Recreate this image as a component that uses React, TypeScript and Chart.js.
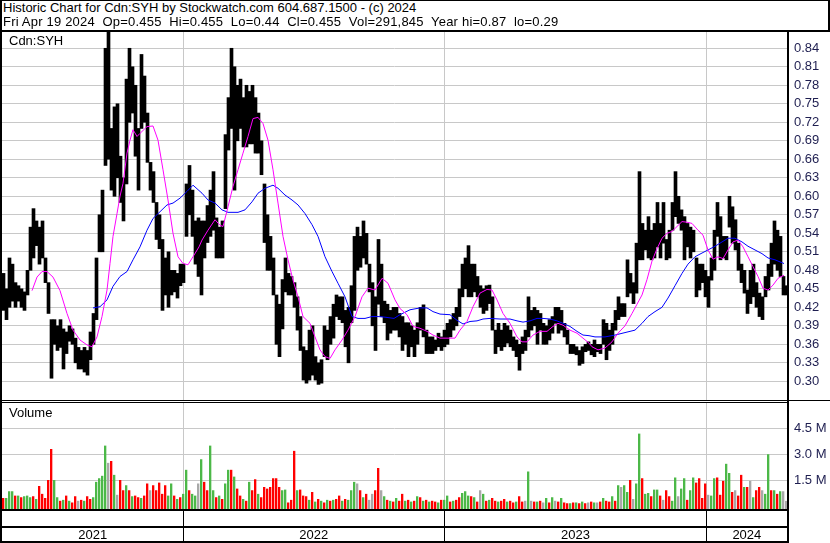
import React, { useEffect, useRef } from 'react';
import { Chart, registerables } from 'chart.js';

Chart.register(...registerables);

const FONT = '"Liberation Sans", Arial, Helvetica, sans-serif';
Chart.defaults.font.family = FONT;

// ---------- text ----------
const TITLE = 'Historic Chart for Cdn:SYH by Stockwatch.com 604.687.1500 - (c) 2024';
const SUBTITLE = 'Fri Apr 19 2024  Op=0.455  Hi=0.455  Lo=0.44  Cl=0.455  Vol=291,845  Year hi=0.87  lo=0.29';
const SYMBOL = 'Cdn:SYH';
const VOLUME_TITLE = 'Volume';
const YEARS = ['2021', '2022', '2023', '2024'];

// ---------- time axis (weekday index from late Apr 2021 to Apr 19 2024) ----------
const DAY_COUNT = 785;
const DAYS_PER_BAR = 3;
const YEAR_START_DAYS = [181.3, 442.3, 704.7]; // Jan 2022, Jan 2023, Jan 2024

// ---------- value axes ----------
const PRICE_TICKS = [0.30, 0.33, 0.36, 0.39, 0.42, 0.45, 0.48, 0.51, 0.54, 0.57, 0.60, 0.63, 0.66, 0.69, 0.72, 0.75, 0.78, 0.81, 0.84];
const PRICE_MIN = 0.2697;
const PRICE_MAX = 0.8664;
const VOLUME_TICKS = [1.5, 3.0, 4.5];
const VOLUME_MIN = -0.183;
const VOLUME_MAX = 5.969;

// ---------- price bars (each bar = 3 trading days) ----------
const barHigh = [
  0.475, 0.45, 0.50, 0.49, 0.46, 0.455, 0.45, 0.445, 0.48, 0.55,
  0.58, 0.56, 0.55, 0.56, 0.50, 0.46, 0.40, 0.40, 0.39, 0.40,
  0.385, 0.38, 0.39, 0.385, 0.37, 0.355, 0.35, 0.355, 0.35, 0.38,
  0.41, 0.50, 0.57, 0.61, 0.84, 0.867, 0.71, 0.745, 0.75, 0.665,
  0.63, 0.79, 0.84, 0.81, 0.78, 0.71, 0.83, 0.795, 0.735, 0.655,
  0.64, 0.59, 0.57, 0.53, 0.50, 0.51, 0.48, 0.48, 0.475, 0.49,
  0.49, 0.62, 0.65, 0.61, 0.56, 0.565, 0.56, 0.56, 0.585, 0.61,
  0.64, 0.565, 0.55, 0.56, 0.70, 0.76, 0.84, 0.81, 0.78, 0.79,
  0.76, 0.78, 0.77, 0.78, 0.76, 0.735, 0.69, 0.62, 0.57, 0.535,
  0.50, 0.44, 0.425, 0.465, 0.50, 0.475, 0.47, 0.46, 0.437, 0.405,
  0.356, 0.35, 0.383, 0.39, 0.34, 0.33, 0.335, 0.39, 0.383, 0.405,
  0.425, 0.44, 0.437, 0.437, 0.415, 0.42, 0.455, 0.535, 0.55, 0.535,
  0.56, 0.54, 0.49, 0.46, 0.437, 0.53, 0.49, 0.43, 0.425, 0.415,
  0.42, 0.42, 0.41, 0.405, 0.395, 0.395, 0.39, 0.383, 0.395, 0.42,
  0.424, 0.383, 0.372, 0.372, 0.367, 0.378, 0.372, 0.383, 0.394, 0.40,
  0.41, 0.42, 0.45, 0.49, 0.50, 0.52, 0.49, 0.49, 0.47, 0.455,
  0.45, 0.455, 0.456, 0.437, 0.383, 0.394, 0.383, 0.394, 0.39, 0.383,
  0.372, 0.367, 0.36, 0.372, 0.383, 0.437, 0.415, 0.42, 0.415, 0.41,
  0.394, 0.39, 0.40, 0.405, 0.42, 0.42, 0.415, 0.394, 0.383, 0.36,
  0.36, 0.356, 0.35, 0.356, 0.36, 0.364, 0.36, 0.367, 0.36, 0.36,
  0.40, 0.394, 0.383, 0.394, 0.415, 0.437, 0.426, 0.426, 0.497, 0.475,
  0.46, 0.524, 0.64, 0.556, 0.545, 0.567, 0.545, 0.556, 0.59, 0.556,
  0.59, 0.53, 0.545, 0.59, 0.64, 0.60, 0.578, 0.567, 0.556, 0.55,
  0.545, 0.50, 0.49, 0.49, 0.48, 0.47, 0.50, 0.545, 0.59, 0.567,
  0.535, 0.535, 0.60, 0.583, 0.562, 0.524, 0.49, 0.48, 0.448, 0.48,
  0.49, 0.46, 0.443, 0.437, 0.47, 0.49, 0.524, 0.56, 0.545, 0.535,
  0.47, 0.455,
];
const barLow = [
  0.415, 0.40, 0.42, 0.43, 0.42, 0.43, 0.42, 0.415, 0.44, 0.48,
  0.50, 0.52, 0.49, 0.50, 0.46, 0.41, 0.305, 0.36, 0.35, 0.355,
  0.32, 0.345, 0.365, 0.36, 0.33, 0.32, 0.32, 0.315, 0.31, 0.335,
  0.36, 0.40, 0.51, 0.51, 0.65, 0.66, 0.61, 0.60, 0.63, 0.59,
  0.56, 0.62, 0.72, 0.735, 0.665, 0.61, 0.71, 0.72, 0.655, 0.61,
  0.59, 0.53, 0.515, 0.415, 0.44, 0.42, 0.44, 0.445, 0.435, 0.455,
  0.46, 0.535, 0.57, 0.535, 0.49, 0.47, 0.44, 0.50, 0.525, 0.535,
  0.545, 0.50, 0.50, 0.50, 0.58, 0.675, 0.71, 0.61, 0.69, 0.71,
  0.68, 0.68, 0.685, 0.685, 0.67, 0.67, 0.635, 0.525, 0.48, 0.48,
  0.44, 0.36, 0.34, 0.385, 0.445, 0.44, 0.44, 0.42, 0.383, 0.35,
  0.302, 0.297, 0.302, 0.31, 0.302, 0.295, 0.297, 0.34, 0.335, 0.36,
  0.37, 0.405, 0.40, 0.395, 0.356, 0.33, 0.395, 0.415, 0.48, 0.485,
  0.50, 0.49, 0.445, 0.39, 0.35, 0.425, 0.405, 0.395, 0.367, 0.378,
  0.383, 0.383, 0.372, 0.35, 0.36, 0.34, 0.356, 0.34, 0.36, 0.383,
  0.372, 0.345, 0.345, 0.345, 0.35, 0.356, 0.35, 0.356, 0.36, 0.372,
  0.383, 0.39, 0.405, 0.437, 0.45, 0.437, 0.437, 0.445, 0.437, 0.42,
  0.41, 0.415, 0.426, 0.383, 0.345, 0.356, 0.35, 0.356, 0.362, 0.356,
  0.35, 0.34, 0.318, 0.345, 0.35, 0.372, 0.383, 0.39, 0.36, 0.383,
  0.36, 0.36, 0.367, 0.378, 0.394, 0.378, 0.383, 0.372, 0.36, 0.345,
  0.345, 0.343, 0.326, 0.329, 0.348, 0.35, 0.343, 0.34, 0.348, 0.345,
  0.36, 0.335, 0.35, 0.36, 0.383, 0.40, 0.405, 0.405, 0.437, 0.443,
  0.426, 0.443, 0.497, 0.497, 0.513, 0.50, 0.497, 0.50, 0.518, 0.50,
  0.524, 0.497, 0.50, 0.545, 0.567, 0.556, 0.545, 0.497, 0.518, 0.50,
  0.51, 0.437, 0.448, 0.46, 0.437, 0.42, 0.464, 0.48, 0.535, 0.497,
  0.50, 0.497, 0.55, 0.524, 0.513, 0.48, 0.46, 0.443, 0.41, 0.426,
  0.437, 0.42, 0.405, 0.40, 0.437, 0.448, 0.47, 0.49, 0.48, 0.47,
  0.44, 0.44,
];

// ---------- volume (millions of shares) and direction (1 up, -1 down, 0 unchanged) ----------
const volumeM = [
  0.45, 0.45, 0.85, 0.85, 0.6, 0.6, 0.5, 0.55, 0.6, 0.5,
  0.55, 0.4, 1.15, 0.7, 0.45, 1.5, 3.3, 1.5, 0.5, 0.3,
  0.35, 0.6, 0.3, 0.2, 0.55, 0.3, 0.35, 0.3, 0.55, 0.4,
  0.5, 1.4, 1.6, 1.75, 3.5, 2.5, 2.6, 1.8, 0.65, 1.5,
  0.9, 1.2, 0.9, 0.55, 0.6, 0.5, 0.45, 0.6, 1.3, 0.9,
  1.2, 0.9, 1.35, 0.7, 1.2, 0.6, 1.3, 0.6, 0.4, 0.5,
  0.7, 2.1, 0.9, 0.7, 0.6, 1.3, 2.7, 1.4, 0.9, 3.5,
  0.9, 0.5, 0.6, 0.4, 1.3, 2.1, 2.1, 1.7, 1.0, 0.6,
  0.4, 0.3, 1.4, 0.9, 1.55, 0.7, 0.5, 1.1, 1.0, 1.1,
  1.6, 1.6, 1.1, 0.9, 0.95, 0.2, 0.35, 3.2, 0.9, 0.95,
  0.6, 0.55, 0.35, 0.8, 0.25, 0.4, 0.3, 0.2, 0.35, 0.3,
  0.35, 0.4, 0.6, 0.3, 0.4, 0.35, 0.9, 1.4, 1.3, 0.9,
  0.5, 0.7, 0.35, 0.7, 0.9, 2.2, 0.9, 0.55, 0.35, 0.3,
  0.25, 0.45, 0.3, 0.7, 0.3, 0.35, 0.25, 0.3, 0.55, 0.5,
  0.3, 0.35, 0.25, 0.3, 0.25, 0.2, 0.35, 0.35, 0.6, 0.25,
  0.3, 0.35, 0.5, 0.75, 0.85, 0.6, 0.55, 0.5, 0.25, 0.9,
  0.7, 0.3, 0.35, 0.45, 0.3, 0.25, 0.3, 0.4, 0.25, 0.3,
  0.2, 0.25, 0.55, 0.25, 0.3, 2.0, 0.3, 0.25, 0.25, 0.3,
  0.2, 0.45, 0.2, 0.5, 0.3, 0.25, 0.45, 0.2, 0.15, 0.15,
  0.2, 0.2, 0.15, 0.25, 0.15, 0.2, 0.25, 0.2, 0.2, 0.25,
  0.45, 0.3, 0.25, 0.55, 0.3, 1.2, 1.1, 1.2, 0.8, 1.5,
  0.4, 1.3, 4.2, 1.6, 0.7, 0.75, 0.55, 0.95, 0.95, 0.6,
  0.35, 0.9, 0.55, 0.3, 1.65, 0.55, 1.0, 1.6, 0.35, 0.9,
  1.65, 1.35, 1.6, 0.45, 1.3, 0.65, 0.6, 1.6, 1.65, 0.65,
  1.45, 2.45, 1.9, 0.8, 0.9, 0.6, 1.8, 1.1, 1.1, 1.45,
  0.5, 0.9, 1.1, 0.9, 0.7, 3.0, 0.9, 0.9, 0.7, 0.85,
  0.85, 0.29,
];
const volumeDir = [
  -1, 1, 1, 1, -1, 1, -1, 1, 1, 1,
  -1, 1, -1, -1, -1, -1, -1, 1, 1, -1,
  1, -1, 1, -1, -1, 0, -1, 1, -1, -1,
  1, 1, 1, 1, 1, 0, -1, 1, 0, -1,
  -1, 1, -1, 1, -1, -1, 1, -1, -1, 0,
  -1, -1, -1, -1, -1, 1, 1, -1, 1, -1,
  1, 1, -1, 1, 1, 0, 1, -1, -1, 1,
  1, -1, 1, -1, 1, 1, -1, 1, -1, -1,
  1, -1, 1, -1, -1, 1, -1, -1, -1, -1,
  -1, -1, -1, 1, 1, -1, -1, -1, 1, -1,
  -1, -1, 1, -1, 1, -1, 1, -1, 1, -1,
  1, -1, -1, 1, -1, 1, 1, 1, 0, -1,
  1, -1, 0, 0, -1, -1, 0, 1, -1, 1,
  -1, 1, -1, -1, 1, -1, 1, -1, 1, -1,
  1, -1, 1, -1, -1, 1, -1, 1, 1, -1,
  1, -1, -1, 1, 1, 1, -1, 1, -1, 0,
  1, -1, 1, -1, -1, 1, -1, -1, 1, -1,
  -1, 1, -1, -1, 0, 1, 0, -1, 1, -1,
  0, 1, -1, 1, 0, -1, 1, -1, -1, 1,
  -1, 1, -1, 1, -1, 0, -1, 1, 0, -1,
  1, -1, -1, 1, -1, 1, 0, 1, 1, -1,
  0, 1, 1, -1, 1, 1, -1, 1, 1, -1,
  0, -1, -1, 1, 1, 0, 1, 1, -1, 1,
  1, -1, -1, -1, -1, 0, 1, 1, -1, -1,
  -1, 1, 1, -1, 0, -1, -1, 1, -1, 0,
  1, -1, -1, 0, 1, 1, -1, 1, -1, 1,
  0, 0,
];

// ---------- moving averages ----------
const maFastDay = [
  30, 35, 40, 45, 51, 58, 65, 71, 78, 85,
  90, 95, 100, 105, 108, 111, 115, 118, 121, 125,
  128, 131, 135, 138, 145, 151, 156, 161, 166, 171,
  176, 181, 186, 191, 197, 200, 206, 213, 218, 221,
  226, 231, 236, 241, 246, 251, 256, 261, 266, 271,
  276, 281, 286, 291, 296, 301, 308, 313, 318, 323,
  328, 333, 340, 346, 353, 360, 366, 373, 380, 386,
  393, 398, 405, 411, 418, 425, 431, 438, 445, 453,
  458, 465, 471, 478, 485, 490, 495, 501, 508, 515,
  520, 525, 531, 538, 545, 551, 556, 561, 568, 575,
  581, 587, 590, 596, 603, 610, 616, 623, 630, 635,
  640, 645, 650, 655, 660, 665, 670, 675, 680, 685,
  690, 696, 701, 706, 711, 716, 721, 726, 731, 736,
  741, 746, 751, 756, 761, 766, 771, 776, 782,
];
const maFastVal = [
  0.447, 0.469, 0.478, 0.478, 0.469, 0.447, 0.41, 0.383, 0.367, 0.359,
  0.356, 0.372, 0.405, 0.448, 0.491, 0.535, 0.572, 0.60, 0.621, 0.67,
  0.691, 0.708, 0.697, 0.702, 0.713, 0.714, 0.691, 0.643, 0.594, 0.54,
  0.502, 0.491, 0.489, 0.502, 0.518, 0.529, 0.545, 0.562, 0.553, 0.551,
  0.583, 0.616, 0.643, 0.67, 0.697, 0.726, 0.728, 0.718, 0.691, 0.643,
  0.589, 0.535, 0.497, 0.464, 0.437, 0.405, 0.394, 0.372, 0.351, 0.34,
  0.337, 0.351, 0.367, 0.383, 0.405, 0.437, 0.451, 0.448, 0.467, 0.459,
  0.432, 0.418, 0.408, 0.389, 0.386, 0.381, 0.375, 0.37, 0.37, 0.37,
  0.383, 0.397, 0.421, 0.443, 0.449, 0.448, 0.432, 0.41, 0.394, 0.372,
  0.364, 0.364, 0.375, 0.381, 0.381, 0.389, 0.394, 0.391, 0.383, 0.378,
  0.37, 0.362, 0.356, 0.351, 0.354, 0.364, 0.378, 0.39, 0.41, 0.425,
  0.44, 0.465, 0.495, 0.515, 0.532, 0.54, 0.543, 0.551, 0.559, 0.558,
  0.556, 0.545, 0.537, 0.513, 0.498, 0.502, 0.499, 0.513, 0.526, 0.529,
  0.518, 0.502, 0.486, 0.47, 0.451, 0.448, 0.456, 0.467, 0.472,
];
const maSlowDay = [
  91, 98, 105, 111, 118, 125, 131, 138, 145, 151,
  158, 165, 171, 178, 185, 191, 200, 206, 213, 220,
  226, 236, 243, 250, 256, 263, 271, 276, 283, 290,
  296, 303, 310, 316, 323, 330, 336, 343, 350, 356,
  363, 370, 376, 383, 392, 398, 408, 418, 425, 431,
  438, 448, 455, 461, 468, 475, 481, 488, 498, 508,
  515, 521, 528, 535, 541, 548, 555, 561, 568, 575,
  581, 587, 593, 603, 613, 623, 633, 640, 646, 653,
  660, 666, 673, 680, 686, 693, 700, 706, 713, 720,
  726, 733, 740, 746, 753, 760, 766, 773, 782,
];
const maSlowVal = [
  0.419, 0.421, 0.432, 0.454, 0.47, 0.478, 0.497, 0.518, 0.545, 0.564,
  0.575, 0.586, 0.589, 0.597, 0.608, 0.618, 0.605, 0.594, 0.589, 0.578,
  0.574, 0.574, 0.578, 0.591, 0.605, 0.613, 0.618, 0.613, 0.602, 0.594,
  0.586, 0.572, 0.554, 0.535, 0.502, 0.478, 0.459, 0.437, 0.405, 0.402,
  0.402, 0.405, 0.405, 0.404, 0.402, 0.408, 0.416, 0.419, 0.419, 0.413,
  0.409, 0.408, 0.399, 0.393, 0.397, 0.398, 0.401, 0.402, 0.401, 0.401,
  0.398, 0.396, 0.398, 0.402, 0.402, 0.401, 0.398, 0.394, 0.389, 0.381,
  0.375, 0.374, 0.372, 0.372, 0.375, 0.379, 0.383, 0.394, 0.405, 0.413,
  0.42, 0.435, 0.455, 0.475, 0.49, 0.502, 0.508, 0.513, 0.519, 0.526,
  0.532, 0.532, 0.526, 0.519, 0.513, 0.507, 0.50, 0.497, 0.491,
];

// ---------- styling / layout ----------
const W = 830;
const H = 543;
const PLOT_LEFT = 2;
const PLOT_RIGHT = 787;
const PRICE_TOP = 32;
const PRICE_H = 368;
const VOL_TOP = 403;
const VOL_H = 106;
const GRID = '#c8c8c8';
const LABEL = '#1e1e50';
const UP = '#4cb848';
const DOWN = '#ff0000';
const FLAT = '#a8a8a8';
const GAP_BORDER = { left: 0, top: 0, bottom: 0, right: 1 };

const dayToPx = (d: number) => PLOT_LEFT + (d * (PLOT_RIGHT - PLOT_LEFT)) / DAY_COUNT;

function xScale(): any {
  return {
    type: 'linear',
    min: 0,
    max: DAY_COUNT,
    bounds: 'data',
    offset: false,
    grid: { color: GRID, lineWidth: 1, drawTicks: false, offset: false },
    border: { display: false },
    ticks: { display: false },
    afterBuildTicks: (s: any) => {
      s.ticks = YEAR_START_DAYS.map((v) => ({ value: v }));
    },
    afterFit: (s: any) => {
      s.height = 0;
      s.paddingLeft = 0;
      s.paddingRight = 0;
      s.paddingTop = 0;
      s.paddingBottom = 0;
    },
  };
}

function yScale(min: number, max: number, ticks: number[], fmt: (v: number) => string): any {
  return {
    type: 'linear',
    position: 'right',
    min,
    max,
    bounds: 'data',
    grid: { color: GRID, lineWidth: 1, drawTicks: false },
    border: { display: false },
    ticks: {
      color: LABEL,
      font: { family: FONT, size: 13 },
      padding: 7,
      autoSkip: false,
      callback: (v: any) => fmt(Number(v)),
    },
    afterBuildTicks: (s: any) => {
      s.ticks = ticks.map((v) => ({ value: v }));
    },
    afterFit: (s: any) => {
      s.width = W - PLOT_RIGHT;
      s.paddingTop = 0;
      s.paddingBottom = 0;
    },
  };
}

const baseOptions = (scales: any): any => ({
  animation: false,
  responsive: false,
  maintainAspectRatio: false,
  events: [],
  layout: { padding: { left: PLOT_LEFT, right: 0, top: 0, bottom: 0 } },
  plugins: { legend: { display: false }, tooltip: { enabled: false } },
  scales,
});

const barDay = (i: number) => i * DAYS_PER_BAR + DAYS_PER_BAR / 2;

function priceConfig(): any {
  return {
    type: 'bar',
    data: {
      datasets: [
        {
          type: 'line',
          label: 'MA fast',
          data: maFastDay.map((d, i) => ({ x: d, y: maFastVal[i] })),
          borderColor: '#ff00ff',
          borderWidth: 1,
          pointRadius: 0,
          tension: 0,
          order: 0,
        },
        {
          type: 'line',
          label: 'MA slow',
          data: maSlowDay.map((d, i) => ({ x: d, y: maSlowVal[i] })),
          borderColor: '#0000ff',
          borderWidth: 1,
          pointRadius: 0,
          tension: 0,
          order: 1,
        },
        {
          type: 'bar',
          label: SYMBOL,
          data: barHigh.map((h, i) => ({ x: barDay(i), y: [barLow[i], h] })),
          backgroundColor: '#000000',
          borderWidth: 0,
          barThickness: DAYS_PER_BAR,
          minBarLength: 1,
          order: 2,
        },
      ],
    },
    options: baseOptions({
      x: xScale(),
      y: yScale(PRICE_MIN, PRICE_MAX, PRICE_TICKS, (v) => v.toFixed(2)),
    }),
  };
}

function volumeConfig(): any {
  return {
    type: 'bar',
    data: {
      datasets: [
        {
          type: 'bar',
          label: VOLUME_TITLE,
          data: volumeM.map((v, i) => ({ x: barDay(i), y: v })),
          backgroundColor: volumeDir.map((d) => (d > 0 ? UP : d < 0 ? DOWN : FLAT)),
          borderColor: 'rgba(0,0,0,0)',
          borderWidth: GAP_BORDER,
          borderSkipped: false,
          base: VOLUME_MIN,
          barThickness: DAYS_PER_BAR,
        },
      ],
    },
    options: baseOptions({
      x: xScale(),
      y: yScale(VOLUME_MIN, VOLUME_MAX, VOLUME_TICKS, (v) => `${v.toFixed(1)} M`),
    }),
  };
}

const Rule = ({ l, t, w, h }: { l: number; t: number; w: number; h: number }) => (
  <div style={{ position: 'absolute', left: l, top: t, width: w, height: h, background: '#000' }} />
);

const textStyle = (left: number, top: number): React.CSSProperties => ({
  position: 'absolute',
  left,
  top,
  fontSize: 13,
  lineHeight: '14px',
  whiteSpace: 'pre',
  color: '#000',
  fontFamily: FONT,
});

export default function App() {
  const priceRef = useRef<HTMLCanvasElement>(null);
  const volRef = useRef<HTMLCanvasElement>(null);

  useEffect(() => {
    const pc = new Chart(priceRef.current as HTMLCanvasElement, priceConfig());
    const vc = new Chart(volRef.current as HTMLCanvasElement, volumeConfig());
    return () => {
      pc.destroy();
      vc.destroy();
    };
  }, []);

  const bounds = [PLOT_LEFT, ...YEAR_START_DAYS.map(dayToPx), PLOT_RIGHT];
  const dividers = YEAR_START_DAYS.map((d) => Math.round(dayToPx(d) - 0.5));

  return (
    <div
      style={{
        position: 'fixed',
        left: 0,
        top: 0,
        width: W,
        height: H,
        background: '#fff',
        overflow: 'hidden',
        fontFamily: FONT,
      }}
    >
      <canvas ref={priceRef} width={W} height={PRICE_H} style={{ position: 'absolute', left: 0, top: PRICE_TOP, display: 'block' }} />
      <canvas ref={volRef} width={W} height={VOL_H} style={{ position: 'absolute', left: 0, top: VOL_TOP, display: 'block' }} />

      {/* frame */}
      <Rule l={0} t={0} w={W} h={1} />
      <Rule l={0} t={30} w={W} h={2} />
      <Rule l={0} t={0} w={2} h={H} />
      <Rule l={828} t={0} w={2} h={32} />
      <Rule l={PLOT_RIGHT} t={30} w={2} h={H - 30} />
      <Rule l={0} t={400} w={W} h={1} />
      <Rule l={0} t={402} w={PLOT_RIGHT + 2} h={1} />
      <Rule l={0} t={509} w={PLOT_RIGHT + 2} h={2} />
      <Rule l={0} t={526} w={PLOT_RIGHT + 2} h={2} />
      <Rule l={0} t={541} w={PLOT_RIGHT + 2} h={2} />
      {dividers.map((x, i) => (
        <Rule key={i} l={x} t={511} w={1} h={30} />
      ))}

      {/* texts */}
      <div style={textStyle(3, 1)}>{TITLE}</div>
      <div style={{ ...textStyle(3, 15), letterSpacing: '0.2px' }}>{SUBTITLE}</div>
      <div style={textStyle(9, 34)}>{SYMBOL}</div>
      <div style={textStyle(9, 406)}>{VOLUME_TITLE}</div>
      {YEARS.map((y, i) => (
        <div
          key={y}
          style={{
            ...textStyle(bounds[i], 528),
            width: bounds[i + 1] - bounds[i],
            textAlign: 'center',
          }}
        >
          {y}
        </div>
      ))}
    </div>
  );
}
